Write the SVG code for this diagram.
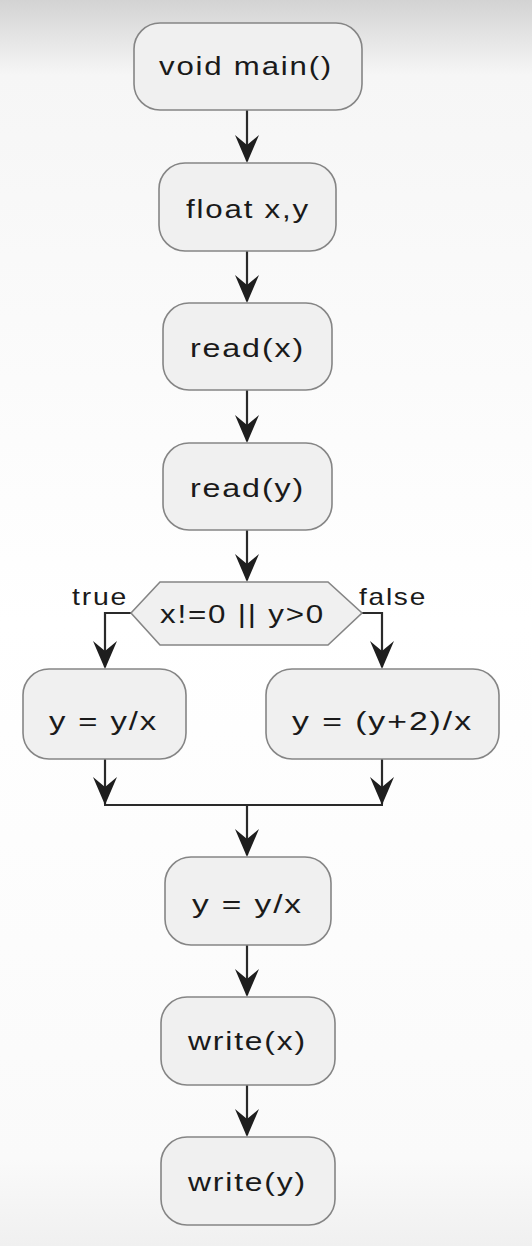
<svg xmlns="http://www.w3.org/2000/svg" width="532" height="1246" viewBox="0 0 532 1246">
<defs>
<linearGradient id="bg" x1="0" y1="0" x2="0" y2="1246" gradientUnits="userSpaceOnUse">
<stop offset="0" stop-color="#d3d3d3"/>
<stop offset="0.06" stop-color="#f6f6f6"/>
<stop offset="0.5" stop-color="#ffffff"/>
<stop offset="0.93" stop-color="#fafafa"/>
<stop offset="1" stop-color="#f0f0f0"/>
</linearGradient>
<style>
.box{fill:#f0f0f0;stroke:#858585;stroke-width:1.6}
.t{font-family:"Liberation Sans",Arial,sans-serif;font-size:26px;fill:#1a1a1a;letter-spacing:1.5px}
.lbl{font-family:"Liberation Sans",Arial,sans-serif;font-size:24px;fill:#1a1a1a;letter-spacing:1.5px}
.c{fill:none;stroke:#2a2a2a;stroke-width:2.2}
.ah{fill:#1e1e1e}
</style>
</defs>
<rect x="0" y="0" width="532" height="1246" fill="url(#bg)"/>
<g id="connectors">
<line class="c" x1="247" y1="110" x2="247" y2="161"/>
<line class="c" x1="247" y1="251" x2="247" y2="301"/>
<line class="c" x1="247" y1="390" x2="247" y2="441"/>
<line class="c" x1="247" y1="530" x2="247" y2="580"/>
<polyline class="c" points="131,613 105,613 105,667"/>
<polyline class="c" points="362,613 382,613 382,667"/>
<line class="c" x1="105" y1="759" x2="105" y2="804"/>
<line class="c" x1="382" y1="759" x2="382" y2="804"/>
<line class="c" x1="104" y1="805" x2="383" y2="805"/>
<line class="c" x1="247" y1="805" x2="247" y2="855"/>
<line class="c" x1="247" y1="945" x2="247" y2="995"/>
<line class="c" x1="247" y1="1085" x2="247" y2="1135"/>
<g class="ah">
<path d="M247,163 L235,135 L247,145 L259,135 Z"/>
<path d="M247,303 L235,275 L247,285 L259,275 Z"/>
<path d="M247,443 L235,415 L247,425 L259,415 Z"/>
<path d="M247,582 L235,554 L247,564 L259,554 Z"/>
<path d="M105,669 L93,641 L105,651 L117,641 Z"/>
<path d="M382,669 L370,641 L382,651 L394,641 Z"/>
<path d="M105,805 L93,777 L105,787 L117,777 Z"/>
<path d="M382,805 L370,777 L382,787 L394,777 Z"/>
<path d="M247,857 L235,829 L247,839 L259,829 Z"/>
<path d="M247,997 L235,969 L247,979 L259,969 Z"/>
<path d="M247,1137 L235,1109 L247,1119 L259,1109 Z"/>
</g>
<text class="lbl" x="72" y="605" textLength="56" lengthAdjust="spacingAndGlyphs">true</text>
<text class="lbl" x="359" y="605" textLength="68" lengthAdjust="spacingAndGlyphs">false</text>
</g>
<g id="n1">
<rect class="box" x="134" y="23" width="228" height="87" rx="26"/>
<text class="t" x="159" y="75" textLength="174" lengthAdjust="spacingAndGlyphs">void main()</text>
</g>
<g id="n2">
<rect class="box" x="159" y="163" width="177" height="88" rx="26"/>
<text class="t" x="186" y="218" textLength="124" lengthAdjust="spacingAndGlyphs">float x,y</text>
</g>
<g id="n3">
<rect class="box" x="163" y="303" width="169" height="87" rx="26"/>
<text class="t" x="190" y="357" textLength="115" lengthAdjust="spacingAndGlyphs">read(x)</text>
</g>
<g id="n4">
<rect class="box" x="163" y="443" width="169" height="87" rx="26"/>
<text class="t" x="190" y="497" textLength="115" lengthAdjust="spacingAndGlyphs">read(y)</text>
</g>
<g id="n5">
<polygon class="box" points="131,613 160,582 328,582 362,613 328,645 160,645"/>
<text class="t" x="160" y="623" textLength="165" lengthAdjust="spacingAndGlyphs">x!=0 || y&gt;0</text>
</g>
<g id="n6">
<rect class="box" x="23" y="669" width="163" height="90" rx="26"/>
<text class="t" x="49" y="730" textLength="109" lengthAdjust="spacingAndGlyphs">y = y/x</text>
</g>
<g id="n7">
<rect class="box" x="266" y="669" width="233" height="90" rx="26"/>
<text class="t" x="292" y="730" textLength="181" lengthAdjust="spacingAndGlyphs">y = (y+2)/x</text>
</g>
<g id="n8">
<rect class="box" x="165" y="857" width="166" height="88" rx="26"/>
<text class="t" x="192" y="913" textLength="111" lengthAdjust="spacingAndGlyphs">y = y/x</text>
</g>
<g id="n9">
<rect class="box" x="161" y="997" width="174" height="88" rx="26"/>
<text class="t" x="188" y="1050" textLength="119" lengthAdjust="spacingAndGlyphs">write(x)</text>
</g>
<g id="n10">
<rect class="box" x="161" y="1137" width="174" height="88" rx="26"/>
<text class="t" x="188" y="1191" textLength="119" lengthAdjust="spacingAndGlyphs">write(y)</text>
</g>
</svg>
